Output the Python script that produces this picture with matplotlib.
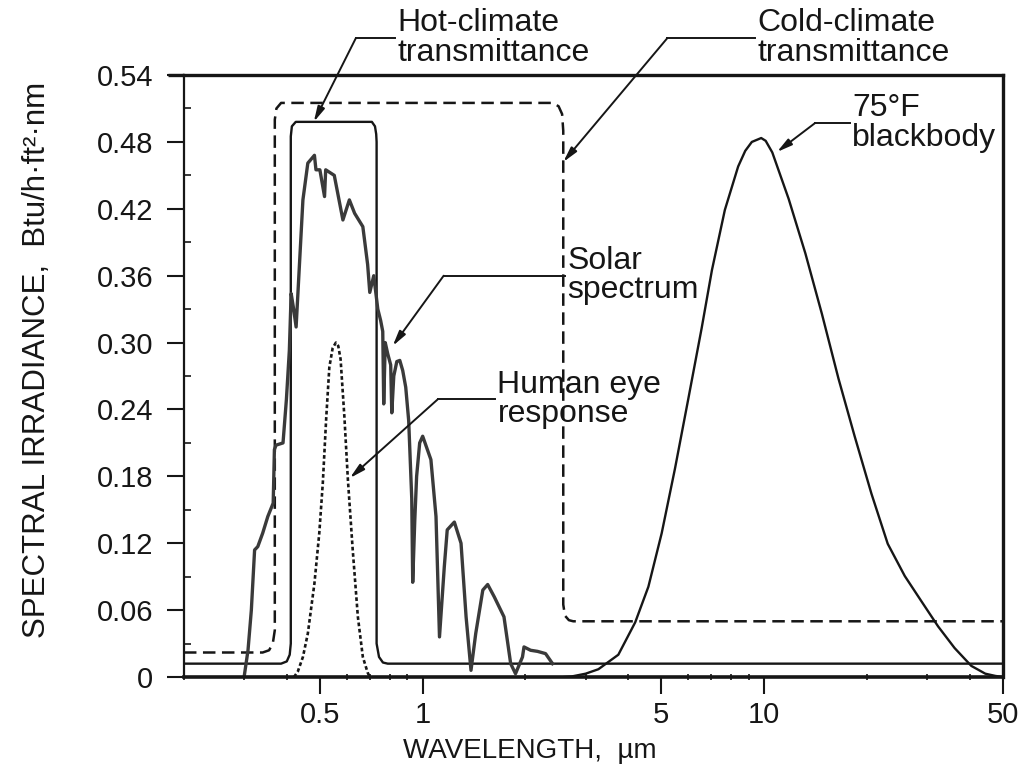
import matplotlib
matplotlib.use("Agg")
import matplotlib.pyplot as plt

plt.rcParams['font.family'] = ['Liberation Sans', 'DejaVu Sans']

# --- data (wavelength in um, irradiance in Btu/h.ft2.nm) ---
solar_wl = [0.30, 0.308, 0.315, 0.322, 0.329, 0.34, 0.352, 0.365, 0.368, 0.372, 0.39,
            0.399, 0.407, 0.412, 0.419, 0.426, 0.446, 0.461, 0.482, 0.487, 0.50, 0.516,
            0.52, 0.551, 0.584, 0.61, 0.632, 0.668, 0.677, 0.69, 0.70, 0.719, 0.739,
            0.753, 0.764, 0.769, 0.777, 0.79, 0.806, 0.812, 0.823, 0.84, 0.857, 0.874,
            0.892, 0.91, 0.929, 0.935, 0.948, 0.96, 0.98, 1.0, 1.057, 1.094, 1.12,
            1.157, 1.18, 1.238, 1.295, 1.34, 1.385, 1.43, 1.50, 1.55, 1.62, 1.73,
            1.81, 1.87, 1.96, 1.98, 2.07, 2.17, 2.29, 2.40]
solar_val = [0.0, 0.024, 0.06, 0.114, 0.117, 0.129, 0.144, 0.156, 0.204, 0.208, 0.21,
             0.249, 0.293, 0.344, 0.33, 0.314, 0.428, 0.461, 0.468, 0.455, 0.455, 0.431,
             0.455, 0.45, 0.41, 0.428, 0.416, 0.404, 0.39, 0.37, 0.345, 0.36, 0.33,
             0.32, 0.31, 0.245, 0.30, 0.29, 0.28, 0.237, 0.27, 0.283, 0.284, 0.275,
             0.26, 0.23, 0.16, 0.085, 0.14, 0.18, 0.21, 0.216, 0.195, 0.144, 0.036,
             0.099, 0.132, 0.139, 0.12, 0.054, 0.006, 0.039, 0.078, 0.083, 0.072, 0.054,
             0.012, 0.003, 0.018, 0.027, 0.024, 0.023, 0.021, 0.012]

eye_wl = [0.42, 0.431, 0.446, 0.461, 0.482, 0.498, 0.51, 0.522, 0.533, 0.545, 0.557,
          0.566, 0.575, 0.59, 0.604, 0.624, 0.646, 0.668, 0.69, 0.70]
eye_val = [0.0, 0.005, 0.018, 0.039, 0.084, 0.129, 0.174, 0.233, 0.278, 0.295, 0.30,
           0.297, 0.285, 0.233, 0.177, 0.114, 0.054, 0.018, 0.004, 0.0]

bb_wl = [2.6, 2.73, 3.0, 3.27, 3.74, 4.19, 4.58, 5.01, 5.48, 5.99, 6.56, 7.03, 7.67,
         8.39, 8.8, 9.2, 9.8, 10.1, 10.56, 11.79, 13.2, 14.76, 16.5, 18.4, 20.6, 23.0,
         25.8, 28.9, 32.3, 36.1, 40.4, 44.4, 47.5, 50]
bb_val = [0.0, 0.0005, 0.003, 0.007, 0.020, 0.049, 0.081, 0.129, 0.187, 0.249, 0.313,
          0.365, 0.419, 0.458, 0.472, 0.480, 0.4835, 0.481, 0.4706, 0.429, 0.380,
          0.3256, 0.2677, 0.216, 0.1646, 0.1195, 0.0906, 0.0677, 0.0454, 0.026, 0.010,
          0.003, 0.001, 0.0]

cold_wl = [0.2, 0.34, 0.355, 0.364, 0.369, 0.369, 0.373, 0.385, 2.40, 2.50, 2.56, 2.58,
           2.58, 2.61, 2.68, 2.76, 50]
cold_val = [0.022, 0.022, 0.024, 0.03, 0.042, 0.50, 0.510, 0.515, 0.515, 0.512, 0.505,
            0.49, 0.065, 0.055, 0.051, 0.05, 0.05]

hot_wl = [0.2, 0.385, 0.400, 0.408, 0.411, 0.411, 0.414, 0.425, 0.71, 0.725, 0.731,
          0.733, 0.733, 0.745, 0.765, 0.79, 50]
hot_val = [0.012, 0.012, 0.014, 0.02, 0.03, 0.485, 0.494, 0.498, 0.498, 0.494, 0.487,
           0.48, 0.03, 0.018, 0.013, 0.012, 0.012]

x_ticks = [0.5, 1, 5, 10, 50]
x_ticklabels = ['0.5', '1', '5', '10', '50']
x_minor = [0.2, 0.3, 0.4, 0.6, 0.7, 0.8, 0.9, 2, 3, 4, 6, 7, 8, 9, 20, 30, 40]
y_ticks = [0, 0.06, 0.12, 0.18, 0.24, 0.30, 0.36, 0.42, 0.48, 0.54]
y_ticklabels = ['0', '0.06', '0.12', '0.18', '0.24', '0.30', '0.36', '0.42', '0.48', '0.54']
y_minor = [0.03, 0.09, 0.15, 0.21, 0.27, 0.33, 0.39, 0.45, 0.51]

ink = '#161616'

fig = plt.figure(figsize=(10.26, 7.65), dpi=100)
ax = fig.add_axes([0.1793, 0.1150, 0.7982, 0.7869])

ax.plot(cold_wl, cold_val, color=ink, lw=1.8, linestyle=(0, (5, 2.6)))
ax.plot(hot_wl, hot_val, color=ink, lw=1.7)
ax.plot(solar_wl, solar_val, color='#3a3a3a', lw=2.4, solid_joinstyle='round')
ax.plot(eye_wl, eye_val, color=ink, lw=1.9, linestyle=(0, (1.4, 1.0)))
ax.plot(bb_wl, bb_val, color=ink, lw=1.7, solid_joinstyle='round')

ax.set_xscale('log')
ax.set_xlim(0.2, 50)
ax.set_ylim(0, 0.54)

ax.set_xticks(x_ticks)
ax.set_xticklabels(x_ticklabels)
ax.set_xticks(x_minor, minor=True)
ax.xaxis.set_minor_formatter(matplotlib.ticker.NullFormatter())
ax.set_yticks(y_ticks)
ax.set_yticklabels(y_ticklabels)
ax.set_yticks(y_minor, minor=True)

ax.tick_params(axis='both', which='major', direction='out', length=12, width=1.5,
               labelsize=21, color=ink, labelcolor=ink)
ax.tick_params(axis='x', which='major', pad=5)
ax.tick_params(axis='y', which='major', pad=10)
ax.tick_params(axis='x', which='minor', direction='inout', length=5, width=1.2, color=ink)
ax.tick_params(axis='y', which='minor', direction='in', length=5, width=1.2, color=ink)

for side, w in [('bottom', 2.6), ('top', 2.4), ('right', 2.4), ('left', 1.6)]:
    ax.spines[side].set_linewidth(w)
    ax.spines[side].set_color(ink)

# top rule runs a little past the left spine in the original
ax.plot([0.1796, 0.2], [0.54, 0.54], color=ink, lw=2.4, clip_on=False,
        solid_capstyle='butt')

ax.set_xlabel('WAVELENGTH,  µm', fontsize=20, color=ink)
ax.xaxis.set_label_coords(0.4225, -0.101)
ax.set_ylabel('SPECTRAL IRRADIANCE,  Btu/h·ft²·nm', fontsize=22.5, color=ink)
ax.yaxis.set_label_coords(-0.161, 0.527)


def leader(label, x_text, y_line, x_elbow, tip):
    ax.text(x_text, y_line, label, fontsize=23, ha='left', va='center',
            linespacing=0.98, color=ink, clip_on=False)
    ax.plot([x_text * 0.985, x_elbow], [y_line, y_line], color=ink, lw=1.4,
            clip_on=False)
    ax.annotate('', xy=tip, xytext=(x_elbow, y_line), annotation_clip=False,
                arrowprops=dict(arrowstyle='-|>,head_length=0.9,head_width=0.22',
                                color=ink, lw=1.4, shrinkA=0, shrinkB=0))


leader('Hot-climate\ntransmittance', 0.845, 0.573, 0.637, (0.48, 0.498))
leader('Cold-climate\ntransmittance', 9.54, 0.573, 5.20, (2.58, 0.462))
leader('75°F\nblackbody', 18.1, 0.497, 14.1, (10.9, 0.471))
leader('Solar\nspectrum', 2.65, 0.360, 1.152, (0.817, 0.297))
leader('Human eye\nresponse', 1.656, 0.249, 1.106, (0.612, 0.1785))

fig.savefig('out.png', dpi=100)
